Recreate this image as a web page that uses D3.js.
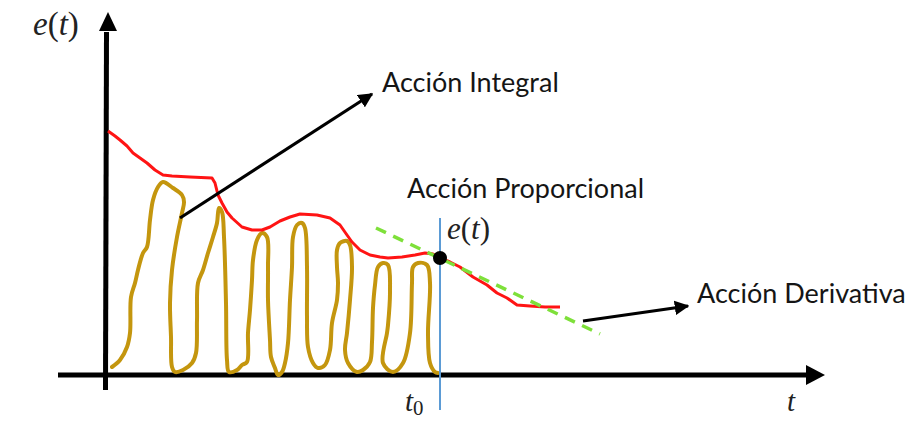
<!DOCTYPE html>
<html>
<head>
<meta charset="utf-8">
<script src="https://cdn.jsdelivr.net/npm/d3@7"></script>
<style>
  body { margin: 0; background: #fff; }
  svg { display: block; }
</style>
</head>
<body>
<svg id="chart" width="914" height="428"></svg>
<script>
// Error signal e(t): hand-traced [t, e] samples
const errorCurve = [
  [0.3,24.4],[1.0,23.9],[1.5,23.5],[2.2,22.9],[2.8,22.2],[3.5,21.7],[4.2,21.2],[5.0,20.5],
  [5.8,20.0],[6.7,19.9],[8.5,19.8],[10.7,19.7],[11.0,19.2],[11.3,18.0],[11.7,17.2],[12.2,16.3],
  [12.7,15.7],[13.7,14.8],[14.7,14.5],[15.7,14.5],[16.5,14.8],[17.5,15.4],[18.5,15.8],[19.5,16.1],
  [21.2,16.0],[22.5,15.7],[23.5,15.0],[24.2,14.0],[24.7,13.3],[25.5,12.5],[26.5,12.0],[27.5,11.8],
  [28.3,11.7],[29.7,11.8],[31.0,12.0],[32.0,12.2],[32.8,12.1],[33.5,11.7],[34.5,11.3],[35.5,10.8],
  [36.8,9.8],[38.2,9.0],[39.2,8.2],[40.2,7.7],[41.2,7.0],[42.5,6.9],[44.0,6.8],[45.5,6.8]
];

// Scribble shading the accumulated error (integral action)
const integralScribble = [
  [0.7,0.8],[1.5,1.5],[2.2,2.8],[2.5,4.2],[2.6,7.8],[3.0,9.2],[3.3,10.5],[3.8,12.2],[4.2,12.8],
  [4.5,15.5],[4.8,17.5],[5.3,18.8],[5.8,19.3],[6.8,18.7],[7.7,18.0],[7.9,17.3],[7.7,16.2],
  [7.2,13.8],[6.7,10.5],[6.5,7.2],[6.6,3.8],[6.7,0.8],[7.0,0.3],[7.8,0.5],[8.7,1.2],[9.1,2.2],
  [9.2,5.5],[9.3,9.2],[9.8,10.5],[10.3,12.2],[10.8,13.8],[11.2,15.2],[11.4,16.7],[11.7,16.3],
  [11.9,13.8],[12.1,7.2],[12.2,1.5],[12.4,0.3],[13.2,0.5],[13.7,1.0],[14.2,1.3],[14.3,4.2],
  [14.5,6.5],[14.7,9.5],[14.8,11.5],[15.2,13.5],[15.7,14.2],[16.2,13.8],[16.3,10.8],[16.3,7.5],
  [16.5,3.5],[16.6,1.8],[17.0,0.7],[17.3,0.0],[17.7,0.3],[18.0,1.2],[18.3,3.2],[18.5,7.5],
  [18.7,10.8],[18.8,13.8],[19.2,15.0],[19.7,15.2],[20.0,14.7],[20.2,10.8],[20.2,5.8],[20.3,2.8],
  [20.8,1.2],[21.3,0.7],[22.0,1.0],[22.5,2.5],[22.7,5.2],[23.2,7.5],[23.3,9.2],[23.2,10.8],
  [23.2,12.5],[23.5,13.2],[24.2,13.4],[24.5,13.0],[24.7,10.8],[24.5,7.5],[24.2,4.2],[24.0,2.5],
  [24.3,1.2],[25.2,0.3],[25.8,0.5],[26.5,1.3],[26.7,3.3],[26.8,6.7],[27.0,9.0],[27.3,10.8],
  [27.8,11.2],[28.3,11.0],[28.5,8.3],[28.3,5.0],[28.2,4.2],[27.8,1.2],[28.8,0.3],[29.8,1.2],
  [30.5,4.2],[30.7,9.2],[30.8,10.8],[31.3,11.2],[32.2,11.0],[32.5,9.2],[32.3,4.2],[32.5,1.2],
  [33.0,0.3],[33.3,0.2]
];

// Current instant and value
const t0 = 33.5;
const e0 = 11.7;

// Tangent (derivative action) at t0
const tangentLine = [[27.1,14.7],[49.5,4.1]];

// Annotation arrows: [from, to]
const arrowIntegral = [[7.5,15.7],[26.7,28.1]];
const arrowDerivative = [[47.8,5.4],[58.3,6.9]];

// Annotation texts and their anchor points [t, e]
const annotations = [
  { text: "Acción Integral",     at: [27.7, 28.3] },
  { text: "Acción Proporcional", at: [30.2, 17.7] },
  { text: "Acción Derivativa",   at: [59.2, 7.2] }
];

const svg = d3.select("#chart");
const x = d3.scaleLinear().domain([0, 72]).range([105, 825]);
const y = d3.scaleLinear().domain([0, 36]).range([375, 15]);

const line = d3.line().x(d => x(d[0])).y(d => y(d[1]));
const smooth = d3.line().x(d => x(d[0])).y(d => y(d[1])).curve(d3.curveCatmullRom.alpha(0.5));

// Arrowhead marker
const defs = svg.append("defs");
defs.append("marker")
  .attr("id", "head")
  .attr("viewBox", "0 0 10 10")
  .attr("refX", 9).attr("refY", 5)
  .attr("markerWidth", 4.6).attr("markerHeight", 4.6)
  .attr("markerUnits", "strokeWidth")
  .attr("orient", "auto")
  .append("path").attr("d", "M0,0 L10,5 L0,10 Z").attr("fill", "#000");

// Axes with arrow tips
const axisColor = "#000";
svg.append("line")
  .attr("x1", x(-4.7)).attr("y1", y(0)).attr("x2", x(70.2)).attr("y2", y(0))
  .attr("stroke", axisColor).attr("stroke-width", 5);
svg.append("path")
  .attr("d", `M${x(72)},${y(0)} L${x(70.1)},${y(0) - 10} L${x(70.1)},${y(0) + 10} Z`)
  .attr("fill", axisColor);
svg.append("line")
  .attr("x1", x(0.05)).attr("y1", y(-1.5)).attr("x2", x(0.15)).attr("y2", y(34.3))
  .attr("stroke", axisColor).attr("stroke-width", 5);
svg.append("path")
  .attr("d", `M${x(0.3)},${y(36.3)} L${x(-0.6)},${y(34.4)} L${x(1.2)},${y(34.4)} Z`)
  .attr("fill", axisColor);

// Integral scribble
svg.append("path")
  .datum(integralScribble)
  .attr("d", smooth)
  .attr("fill", "none")
  .attr("stroke", "#c4960e")
  .attr("stroke-width", 4)
  .attr("stroke-linejoin", "round")
  .attr("stroke-linecap", "round");

// Error curve
svg.append("path")
  .datum(errorCurve)
  .attr("d", line)
  .attr("fill", "none")
  .attr("stroke", "#ff1414")
  .attr("stroke-width", 3)
  .attr("stroke-linejoin", "round");

// Vertical marker at t0
svg.append("line")
  .attr("x1", x(t0)).attr("x2", x(t0))
  .attr("y1", y(15.7)).attr("y2", y(-3.5))
  .attr("stroke", "#5b9bd5").attr("stroke-width", 2);

// Tangent line
svg.append("path")
  .datum(tangentLine)
  .attr("d", line)
  .attr("stroke", "#7ee03a")
  .attr("stroke-width", 3.5)
  .attr("stroke-dasharray", "11,8");

// Point e(t0)
svg.append("circle")
  .attr("cx", x(t0)).attr("cy", y(e0)).attr("r", 7)
  .attr("fill", "#000");

// Annotation arrows
[arrowIntegral, arrowDerivative].forEach(a => {
  svg.append("path")
    .datum(a)
    .attr("d", line)
    .attr("stroke", "#000")
    .attr("stroke-width", 3.2)
    .attr("marker-end", "url(#head)");
});

// Annotation labels
svg.selectAll("text.note")
  .data(annotations)
  .enter().append("text")
  .attr("class", "note")
  .attr("x", d => x(d.at[0]))
  .attr("y", d => y(d.at[1]))
  .attr("font-family", "Lato, 'Open Sans', sans-serif")
  .attr("font-size", 27)
  .attr("fill", "#151515")
  .text(d => d.text);

// Math labels
function mathLabel(px, py, size, parts) {
  const t = svg.append("text")
    .attr("x", px).attr("y", py)
    .attr("font-family", "'Liberation Serif', 'DejaVu Serif', serif")
    .attr("font-size", size)
    .attr("fill", "#222");
  parts.forEach(p => {
    const s = t.append("tspan").text(p.s);
    if (p.i) s.attr("font-style", "italic");
    if (p.sub) s.attr("font-size", size * 0.72).attr("dy", 4);
  });
}
mathLabel(x(-7.2), y(34), 33, [{s:"e", i:1},{s:"("},{s:"t", i:1},{s:")"}]);
mathLabel(x(34.2), y(13.6), 31, [{s:"e", i:1},{s:"("},{s:"t", i:1},{s:")"}]);
mathLabel(x(68.2), y(-3.6), 29, [{s:"t", i:1}]);
mathLabel(x(30.0), y(-3.6), 29, [{s:"t", i:1},{s:"0", sub:1}]);
</script>
</body>
</html>
